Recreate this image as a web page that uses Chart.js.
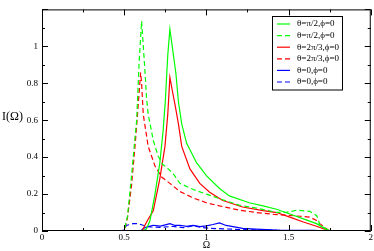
<!DOCTYPE html>
<html lang="en">
<head>
    <meta charset="UTF-8">
    <title>I(Omega)</title>
    <style>
        * { margin: 0; padding: 0; }
        body { background: #fff; }
        #chart { display: block; }
    </style>
</head>
<body>
    <canvas id="chart" width="374" height="251"></canvas>

    <script src="https://cdn.jsdelivr.net/npm/chart.js"></script>
    <script>
        // theta = pi/2, phi = 0 (solid)
        const greenSolidX = [0.08, 0.61, 0.635, 0.657, 0.687, 0.717, 0.737, 0.75, 0.765, 0.778, 0.8, 0.815, 0.83, 0.85, 0.88, 0.94, 1.0, 1.08, 1.14, 1.26, 1.345, 1.427, 1.508, 1.59, 1.67, 1.73, 1.76, 2.0];
        const greenSolidY = [0, 0, 0.01, 0.057, 0.197, 0.37, 0.545, 0.7, 0.95, 1.093, 0.95, 0.85, 0.7, 0.58, 0.475, 0.37, 0.3, 0.23, 0.19, 0.153, 0.136, 0.118, 0.092, 0.066, 0.04, 0.009, 0, 0];
        // theta = pi/2, phi = 0 (dashed)
        const greenDashX = [0.08, 0.5, 0.52, 0.545, 0.565, 0.576, 0.59, 0.606, 0.626, 0.636, 0.646, 0.662, 0.677, 0.707, 0.735, 0.758, 0.798, 0.839, 0.92, 1.0, 1.08, 1.2, 1.305, 1.427, 1.488, 1.55, 1.63, 1.67, 1.68, 1.69, 1.75, 2.0];
        const greenDashY = [0, 0, 0.08, 0.3, 0.5, 0.6, 0.9, 1.137, 0.87, 0.72, 0.632, 0.56, 0.49, 0.405, 0.36, 0.345, 0.31, 0.258, 0.225, 0.2, 0.175, 0.14, 0.124, 0.101, 0.101, 0.113, 0.106, 0.084, 0.066, 0.03, 0, 0];
        // theta = 2pi/3, phi = 0 (solid)
        const redSolidX = [0.08, 0.61, 0.626, 0.65, 0.677, 0.717, 0.748, 0.765, 0.778, 0.795, 0.81, 0.83, 0.85, 0.9, 0.96, 1.02, 1.1, 1.22, 1.345, 1.427, 1.508, 1.59, 1.67, 1.75, 2.0];
        const redSolidY = [0, 0, 0.031, 0.07, 0.11, 0.284, 0.458, 0.63, 0.832, 0.75, 0.68, 0.58, 0.458, 0.336, 0.258, 0.21, 0.165, 0.13, 0.11, 0.1, 0.075, 0.049, 0.026, 0, 0];
        // theta = 2pi/3, phi = 0 (dashed)
        const redDashX = [0.08, 0.5, 0.52, 0.545, 0.565, 0.58, 0.6, 0.606, 0.616, 0.646, 0.687, 0.728, 0.778, 0.839, 0.92, 1.0, 1.08, 1.2, 1.305, 1.41, 1.508, 1.57, 1.63, 1.67, 1.69, 1.75, 2.0];
        const redDashY = [0, 0, 0.07, 0.25, 0.45, 0.62, 0.858, 0.8, 0.632, 0.458, 0.353, 0.292, 0.258, 0.214, 0.179, 0.153, 0.136, 0.113, 0.1, 0.09, 0.084, 0.08, 0.075, 0.057, 0.04, 0, 0];
        // theta = 0, phi = 0 (solid)
        const blueSolidX = [0.08, 0.6, 0.616, 0.64, 0.677, 0.72, 0.75, 0.778, 0.81, 0.84, 0.88, 0.92, 0.96, 1.0, 1.04, 1.08, 1.12, 1.22, 1.3, 1.43, 1.55, 1.65, 1.75, 2.0];
        const blueSolidY = [0, 0, 0.014, 0.022, 0.031, 0.026, 0.033, 0.04, 0.03, 0.031, 0.025, 0.03, 0.024, 0.028, 0.035, 0.044, 0.03, 0.014, 0.01, 0.005, 0.004, 0.003, 0, 0];
        // theta = 0, phi = 0 (dashed)
        const blueDashX = [0.08, 0.49, 0.515, 0.535, 0.555, 0.576, 0.6, 0.616, 0.66, 0.72, 0.8, 0.86, 0.92, 0.97, 1.02, 1.1, 1.2, 1.3, 1.4, 1.5, 1.6, 2.0];
        const blueDashY = [0, 0, 0.031, 0.035, 0.04, 0.04, 0.035, 0.031, 0.022, 0.02, 0.025, 0.018, 0.028, 0.02, 0.014, 0.012, 0.008, 0.006, 0.004, 0.002, 0, 0];

        const seriesLabels = ['θ=π/2,ϕ=0', 'θ=π/2,ϕ=0', 'θ=2π/3,ϕ=0', 'θ=2π/3,ϕ=0', 'θ=0,ϕ=0', 'θ=0,ϕ=0'];
        const xMajor = [0, 0.5, 1, 1.5, 2];
        const yMajor = [0, 0.2, 0.4, 0.6, 0.8, 1, 1.2];

        const serif = '"Liberation Serif", "DejaVu Serif", serif';
        const dash = [5, 3];

        function pts(xs, ys) {
            return xs.map((x, i) => ({ x: x, y: ys[i] }));
        }

        function line(label, xs, ys, color, dashed) {
            return {
                label: label,
                data: pts(xs, ys),
                borderColor: color,
                borderWidth: 1.2,
                borderDash: dashed ? dash : [],
                pointRadius: 0,
                fill: false,
                tension: 0
            };
        }

        // frame, inward ticks on all four sides, axis titles, boxed legend
        const decor = {
            id: 'decor',
            afterDatasetsDraw(chart) {
                const ctx = chart.ctx;
                const a = chart.chartArea;
                const sx = chart.scales.x;
                const sy = chart.scales.y;
                ctx.save();
                ctx.strokeStyle = '#000';
                ctx.lineWidth = 1;
                ctx.strokeRect(a.left + 0.5, a.top + 0.5, a.right - a.left - 1, a.bottom - a.top - 1);

                ctx.beginPath();
                for (let v = 0; v <= 2.001; v += 0.25) {
                    const px = Math.round(sx.getPixelForValue(v)) + 0.5;
                    const len = Math.abs(v * 2 - Math.round(v * 2)) < 0.01 ? 6 : 3;
                    ctx.moveTo(px, a.bottom); ctx.lineTo(px, a.bottom - len);
                    ctx.moveTo(px, a.top); ctx.lineTo(px, a.top + len);
                }
                for (let v = 0; v <= 1.201; v += 0.1) {
                    const py = Math.round(sy.getPixelForValue(v)) + 0.5;
                    const len = Math.abs(v * 5 - Math.round(v * 5)) < 0.01 ? 6 : 3;
                    ctx.moveTo(a.left, py); ctx.lineTo(a.left + len, py);
                    ctx.moveTo(a.right, py); ctx.lineTo(a.right - len, py);
                }
                ctx.stroke();

                ctx.fillStyle = '#000';
                ctx.font = '12px ' + serif;
                ctx.textAlign = 'left';
                ctx.textBaseline = 'middle';
                ctx.fillText('I(Ω)', 2, 117);
                ctx.font = '10px ' + serif;
                ctx.textAlign = 'center';
                ctx.fillText('Ω', (a.left + a.right) / 2, 245);

                // legend
                const bx = 272.5, by = 16.5, bw = 70, bh = 73.5;
                ctx.fillStyle = '#fff';
                ctx.fillRect(bx, by, bw, bh);
                ctx.strokeStyle = '#000';
                ctx.strokeRect(bx, by, bw, bh);
                ctx.font = '9px ' + serif;
                ctx.textAlign = 'left';
                chart.data.datasets.forEach((ds, i) => {
                    const y = 24 + i * 11.6;
                    ctx.strokeStyle = ds.borderColor;
                    ctx.lineWidth = 1.2;
                    ctx.setLineDash(ds.borderDash);
                    ctx.beginPath();
                    ctx.moveTo(277, y); ctx.lineTo(290, y);
                    ctx.stroke();
                    ctx.setLineDash([]);
                    ctx.fillStyle = '#000';
                    ctx.fillText(ds.label, 297, y);
                });
                ctx.restore();
            }
        };

        new Chart(document.getElementById('chart'), {
            type: 'line',
            data: {
                datasets: [
                    line(seriesLabels[0], greenSolidX, greenSolidY, '#00ff00', false),
                    line(seriesLabels[1], greenDashX, greenDashY, '#00ff00', true),
                    line(seriesLabels[2], redSolidX, redSolidY, '#ff0000', false),
                    line(seriesLabels[3], redDashX, redDashY, '#ff0000', true),
                    line(seriesLabels[4], blueSolidX, blueSolidY, '#0000ff', false),
                    line(seriesLabels[5], blueDashX, blueDashY, '#0000ff', true)
                ]
            },
            options: {
                responsive: false,
                animation: false,
                layout: { padding: { top: 2, right: 3, left: 0, bottom: 0 } },
                plugins: { legend: { display: false }, tooltip: { enabled: false } },
                scales: {
                    x: {
                        type: 'linear',
                        min: 0,
                        max: 2,
                        afterBuildTicks: s => { s.ticks = xMajor.map(v => ({ value: v })); },
                        afterFit: s => { s.height = 20; },
                        grid: { display: false, drawTicks: false },
                        border: { display: false },
                        ticks: {
                            color: '#000',
                            padding: 1,
                            maxRotation: 0,
                            font: { family: serif, size: 9 },
                            callback: v => String(v)
                        }
                    },
                    y: {
                        min: 0,
                        max: 1.2,
                        afterBuildTicks: s => { s.ticks = yMajor.map(v => ({ value: v })); },
                        afterFit: s => { s.width = 42; },
                        grid: { display: false, drawTicks: false },
                        border: { display: false },
                        ticks: {
                            color: '#000',
                            padding: 4,
                            font: { family: serif, size: 9 },
                            callback: v => v > 1.1 ? '' : String(v)
                        }
                    }
                }
            },
            plugins: [decor]
        });
    </script>
</body>
</html>
